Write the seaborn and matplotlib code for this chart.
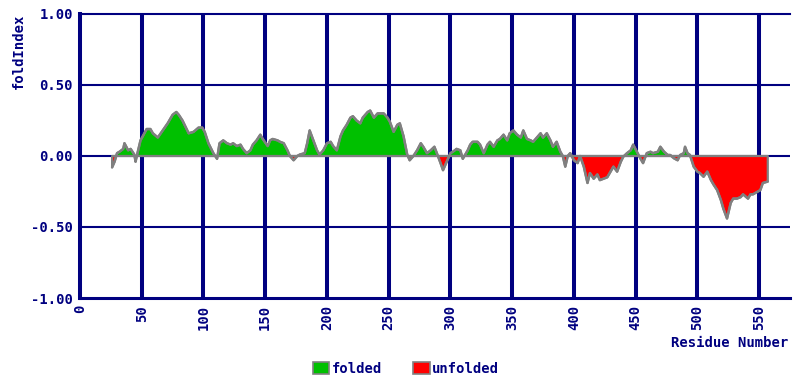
import numpy as np
import pandas as pd
import matplotlib
matplotlib.use("Agg")
import matplotlib.pyplot as plt
from matplotlib.patches import Patch
import seaborn as sns

# FoldIndex profile: residue number and fold index value
residue = [26, 28, 30, 32, 35, 36, 39, 41, 44, 45, 46, 49, 54, 57, 59, 63, 67, 71, 75, 78,
           80, 83, 88, 92, 96, 99, 101, 104, 108, 111, 113, 116, 119, 122, 124, 127, 130, 132,
           135, 138, 140, 143, 146, 148, 152, 154, 156, 160, 162, 165, 168, 170, 173, 176, 178,
           182, 184, 186, 189, 192, 194, 197, 200, 203, 205, 208, 211, 213, 216, 219, 221, 224,
           227, 229, 233, 235, 238, 241, 243, 246, 249, 251, 254, 257, 259, 262, 265, 267, 270,
           273, 276, 278, 281, 284, 287, 289, 292, 294, 297, 300, 302, 305, 308, 310, 314, 316,
           318, 322, 324, 327, 330, 332, 335, 338, 340, 343, 346, 348, 351, 354, 357, 359, 362,
           365, 367, 370, 373, 375, 378, 381, 383, 386, 389, 391, 393, 395, 397, 400, 403, 405,
           408, 411, 413, 416, 419, 421, 424, 427, 429, 432, 435, 438, 440, 443, 446, 448, 451,
           454, 456, 459, 462, 464, 468, 470, 473, 476, 478, 481, 484, 486, 489, 490, 492, 494,
           497, 500, 502, 505, 508, 511, 513, 516, 519, 521, 524, 527, 529, 532, 535, 537, 541,
           543, 545, 549, 551, 553, 557]
fold_index = [-0.08, -0.04, 0.02, 0.03, 0.05, 0.09, 0.04, 0.05, 0.01, -0.04, 0.00, 0.11, 0.19,
              0.19, 0.16, 0.13, 0.18, 0.23, 0.29, 0.31, 0.29, 0.25, 0.16, 0.17, 0.20, 0.20, 0.17,
              0.09, 0.02, -0.02, 0.09, 0.11, 0.09, 0.08, 0.09, 0.07, 0.08, 0.05, 0.02, 0.04, 0.08,
              0.11, 0.15, 0.12, 0.07, 0.11, 0.12, 0.11, 0.10, 0.09, 0.04, 0.00, -0.03, 0.00, 0.01,
              0.02, 0.09, 0.18, 0.11, 0.04, 0.01, 0.04, 0.09, 0.10, 0.07, 0.04, 0.14, 0.18, 0.22,
              0.27, 0.28, 0.25, 0.23, 0.27, 0.31, 0.32, 0.27, 0.30, 0.30, 0.30, 0.27, 0.24, 0.17,
              0.22, 0.23, 0.14, 0.01, -0.03, 0.00, 0.04, 0.09, 0.065, 0.02, 0.04, 0.065, 0.02,
              -0.05, -0.10, -0.04, 0.02, 0.03, 0.05, 0.04, -0.02, 0.04, 0.08, 0.10, 0.10, 0.08,
              0.02, 0.08, 0.10, 0.065, 0.11, 0.12, 0.15, 0.11, 0.16, 0.18, 0.15, 0.13, 0.18, 0.12,
              0.11, 0.10, 0.13, 0.16, 0.13, 0.16, 0.11, 0.065, 0.10, 0.03, 0.00, -0.075, 0.00,
              0.02, -0.03, -0.05, 0.00, -0.075, -0.19, -0.12, -0.16, -0.13, -0.17, -0.16, -0.15,
              -0.12, -0.075, -0.11, -0.04, -0.005, 0.02, 0.04, 0.08, 0.03, -0.02, -0.05, 0.02,
              0.03, 0.02, 0.03, 0.065, 0.03, 0.007, 0.007, -0.016, -0.03, 0.007, 0.02, 0.065,
              0.02, 0.007, -0.075, -0.11, -0.12, -0.146, -0.11, -0.17, -0.20, -0.24, -0.31,
              -0.37, -0.44, -0.33, -0.30, -0.30, -0.29, -0.27, -0.30, -0.27, -0.27, -0.25, -0.24,
              -0.19, -0.18]

x_ticks = [0, 50, 100, 150, 200, 250, 300, 350, 400, 450, 500, 550]
y_ticks = [-1.0, -0.5, 0.0, 0.5, 1.0]
y_tick_labels = ["-1.00", "-0.50", "0.00", "0.50", "1.00"]
x_max = 575
legend_labels = ["folded", "unfolded"]

NAVY = "#000080"
GREEN = "#00c000"
RED = "#ff0000"
GREY = "#808080"
FS = 10

sns.set_style("white")
plt.rcParams["font.family"] = ["DejaVu Sans Mono", "DejaVu Sans"]

df = pd.DataFrame({"residue": residue, "fold_index": fold_index})

fig = plt.figure(figsize=(7.95, 3.76), dpi=100)
ax = fig.add_axes([80 / 795, 1 - 298 / 376, 710 / 795, 284 / 376])

# grid: heavy vertical lines, thinner horizontal ones
for xv in x_ticks[1:]:
    ax.axvline(xv, color=NAVY, lw=2.9, zorder=1)
for yv in y_ticks[1:-1]:
    ax.axhline(yv, color=NAVY, lw=1.5, zorder=1)

x = df["residue"].to_numpy(dtype=float)
y = df["fold_index"].to_numpy(dtype=float)
ax.fill_between(x, y, 0, where=y >= 0, interpolate=True, facecolor=GREEN,
                edgecolor=GREY, lw=1.6, zorder=2)
ax.fill_between(x, y, 0, where=y <= 0, interpolate=True, facecolor=RED,
                edgecolor=GREY, lw=1.6, zorder=2)
sns.lineplot(data=df, x="residue", y="fold_index", color=GREY, lw=1.8, ax=ax, zorder=3)

ax.set_xlim(0, x_max)
ax.set_ylim(-1.0, 1.0)
ax.set_xticks(x_ticks)
ax.set_xticklabels([str(v) for v in x_ticks], rotation=90)
ax.set_yticks(y_ticks)
ax.set_yticklabels(y_tick_labels)
ax.tick_params(length=0, colors=NAVY, labelsize=FS, pad=5)
for lab in ax.get_xticklabels() + ax.get_yticklabels():
    lab.set_fontweight("bold")
ax.set_xlabel("")
ax.set_ylabel("")

ax.spines["right"].set_visible(False)
ax.spines["left"].set_color(NAVY)
ax.spines["left"].set_linewidth(2.9)
ax.spines["bottom"].set_color(NAVY)
ax.spines["bottom"].set_linewidth(2.2)
ax.spines["top"].set_color(NAVY)
ax.spines["top"].set_linewidth(1.5)

fig.text(19 / 795, 1 - 14 / 376, "foldIndex", rotation=90, va="top", ha="center",
         color=NAVY, fontsize=FS, fontweight="bold")
fig.text(671 / 795, 1 - 343 / 376, "Residue Number", va="center", ha="left",
         color=NAVY, fontsize=FS, fontweight="bold")

handles = [Patch(facecolor=GREEN, edgecolor=GREY, lw=1.2),
           Patch(facecolor=RED, edgecolor=GREY, lw=1.2)]
fig.legend(handles, legend_labels, loc="center", bbox_to_anchor=(406 / 795, 1 - 369 / 376),
           ncol=2, frameon=False, handlelength=1.2, handleheight=0.9,
           handletextpad=0.2, columnspacing=2.2, labelcolor=NAVY,
           prop={"weight": "bold", "size": FS})

fig.savefig("out.png", dpi=100)
